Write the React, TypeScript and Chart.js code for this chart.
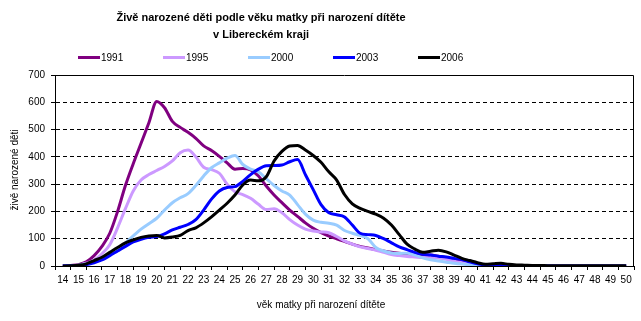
import React, { useEffect, useRef } from "react";
import { Chart, registerables } from "chart.js";

Chart.register(...registerables);

const TITLE_LINES = ["Živě narozené děti podle věku matky při narození dítěte", "v Libereckém kraji"];
const Y_TITLE = "živě narozené děti";
const X_TITLE = "věk matky při narození dítěte";

const AGE_LABELS = [14, 15, 16, 17, 18, 19, 20, 21, 22, 23, 24, 25, 26, 27, 28, 29, 30, 31, 32, 33, 34, 35, 36, 37, 38, 39, 40, 41, 42, 43, 44, 45, 46, 47, 48, 49, 50];

const AGES = [
  14, 14.5, 15, 15.5, 16, 16.5, 17, 17.5, 18, 18.5,
  19, 19.5, 20, 20.5, 21, 21.5, 22, 22.5, 23, 23.5,
  24, 24.5, 25, 25.5, 26, 26.5, 27, 27.5, 28, 28.5,
  29, 29.5, 30, 30.5, 31, 31.5, 32, 32.5, 33, 33.5,
  34, 34.5, 35, 35.5, 36, 36.5, 37, 37.5, 38, 38.5,
  39, 39.5, 40, 40.5, 41, 41.5, 42, 42.5, 43, 43.5,
  44, 44.5, 45, 45.5, 46, 46.5, 47, 47.5, 48, 48.5,
  49, 49.5, 50,
];

const SERIES_NAMES = ["1991", "1995", "2000", "2003", "2006"];
const SERIES_COLORS = ["#800080", "#CC99FF", "#99CCFF", "#0000FF", "#000000"];

const Y1991 = [
  0, 2, 5, 15, 38, 72, 120, 200, 295, 375,
  450, 525, 603, 580, 530, 508, 490, 468, 440, 423,
  402, 378, 355, 357, 352, 330, 293, 260, 232, 205,
  182, 158, 138, 122, 110, 100, 90, 80, 72, 66,
  60, 55, 50, 47, 45, 43, 40, 40, 36, 30,
  22, 15, 10, 6, 4, 3, 2, 1, 1, 1,
  0, 0, 0, 0, 0, 0, 0, 0, 0, 0,
  0, 0, 0,
];
const Y1995 = [
  0, 1, 3, 10, 22, 45, 78, 140, 210, 275,
  315, 335, 350, 365, 385, 415, 425, 400, 362, 353,
  340, 300, 272, 262, 248, 226, 207, 210, 195, 170,
  150, 135, 128, 125, 122, 108, 92, 80, 70, 64,
  58, 50, 42, 38, 35, 33, 31, 30, 29, 25,
  18, 12, 8, 5, 3, 2, 1, 1, 0, 0,
  0, 0, 0, 0, 0, 0, 0, 0, 0, 0,
  0, 0, 0,
];
const Y2000 = [
  0, 1, 3, 8, 15, 25, 40, 60, 85, 110,
  135, 155, 175, 205, 232, 250, 265, 295, 330, 360,
  378, 395, 405, 372, 355, 345, 320, 295, 275, 260,
  225, 190, 168, 160, 157, 150, 130, 120, 112, 100,
  68, 55, 48, 46, 47, 40, 30, 23, 18, 14,
  10, 7, 5, 3, 2, 1, 1, 0, 0, 0,
  0, 0, 0, 0, 0, 0, 0, 0, 0, 0,
  0, 0, 0,
];
const Y2003 = [
  0, 1, 2, 5, 12, 22, 38, 55, 72, 88,
  98, 105, 108, 118, 132, 142, 152, 170, 205, 245,
  275, 288, 291, 310, 335, 355, 367, 368, 370, 382,
  390, 335, 280, 225, 195, 188, 180, 150, 120, 115,
  112, 100, 85, 70, 60, 50, 43, 40, 36, 33,
  28, 24, 15, 8, 4, 3, 3, 2, 1, 0,
  0, 0, 0, 0, 0, 0, 0, 0, 0, 0,
  0, 0, 0,
];
const Y2006 = [
  0, 1, 3, 8, 20, 32, 50, 68, 85, 96,
  105, 110, 112, 103, 106, 112, 130, 140, 158, 180,
  205, 230, 260, 297, 315, 312, 327, 385, 420, 440,
  442, 425, 405, 380, 345, 315, 262, 228, 211, 200,
  190, 175, 150, 115, 80, 62, 50, 54, 58, 52,
  40, 28, 20, 12, 6, 8, 10, 6, 4, 3,
  2, 2, 1, 1, 1, 1, 1, 1, 1, 1,
  1, 1, 1,
];

const SERIES = [Y1991, Y1995, Y2000, Y2003, Y2006];

const FONT = "Arial, 'Liberation Sans', sans-serif";

const decorPlugin = {
  id: "decor",
  afterDraw(chart: any) {
    const ctx = chart.ctx;
    const area = chart.chartArea;
    ctx.save();
    // plot frame (top and right)
    ctx.strokeStyle = "#000";
    ctx.lineWidth = 1;
    ctx.beginPath();
    ctx.moveTo(Math.round(area.left) + 0.5, Math.round(area.top) + 0.5);
    ctx.lineTo(Math.round(area.right) - 0.5, Math.round(area.top) + 0.5);
    ctx.lineTo(Math.round(area.right) - 0.5, Math.round(area.bottom) + 0.5);
    ctx.stroke();

    // title
    ctx.fillStyle = "#000";
    ctx.textAlign = "center";
    ctx.textBaseline = "alphabetic";
    ctx.font = `bold 11px ${FONT}`;
    ctx.fillText(TITLE_LINES[0], 261, 21);
    ctx.fillText(TITLE_LINES[1], 261, 38);

    // legend
    ctx.font = `10px ${FONT}`;
    ctx.textAlign = "left";
    ctx.textBaseline = "middle";
    SERIES_NAMES.forEach((name, i) => {
      const x0 = 78 + 85 * i;
      ctx.strokeStyle = SERIES_COLORS[i];
      ctx.lineWidth = 3;
      ctx.beginPath();
      ctx.moveTo(x0, 57.5);
      ctx.lineTo(x0 + 22, 57.5);
      ctx.stroke();
      ctx.fillStyle = "#000";
      ctx.fillText(name, x0 + 23, 58);
    });

    // x axis title
    ctx.textAlign = "center";
    ctx.fillText(X_TITLE, 321, 305);

    // y axis title
    ctx.translate(15, 170);
    ctx.rotate(-Math.PI / 2);
    ctx.fillText(Y_TITLE, 0, 0);
    ctx.restore();
  },
};

export default function App() {
  const ref = useRef<HTMLCanvasElement | null>(null);

  useEffect(() => {
    if (!ref.current) return;
    const chart = new Chart(ref.current, {
      type: "line",
      data: {
        datasets: SERIES.map((vals, i) => ({
          label: SERIES_NAMES[i],
          data: AGES.map((a, j) => ({ x: a, y: vals[j] })),
          borderColor: SERIES_COLORS[i],
          backgroundColor: SERIES_COLORS[i],
          borderWidth: 3,
          pointRadius: 0,
          fill: false,
          cubicInterpolationMode: "monotone" as const,
          order: SERIES.length - i,
        })),
      },
      options: {
        responsive: false,
        animation: false,
        events: [],
        layout: { padding: { top: 75, right: 7, left: 0, bottom: 0 } },
        plugins: {
          legend: { display: false },
          title: { display: false },
          tooltip: { enabled: false },
        },
        scales: {
          x: {
            type: "linear",
            min: 13.5,
            max: 50.5,
            afterBuildTicks: (axis: any) => {
              axis.ticks = AGE_LABELS.map((v) => ({ value: v }));
            },
            afterFit: (scale: any) => {
              scale.height = 55;
            },
            ticks: {
              autoSkip: false,
              maxRotation: 0,
              minRotation: 0,
              padding: 4,
              color: "#000",
              font: { family: FONT, size: 10 },
              callback: (v: any) => String(v),
            },
            grid: {
              offset: true,
              drawOnChartArea: false,
              drawTicks: true,
              tickLength: 4,
              tickColor: "#000",
              color: "#000",
            },
            border: { display: true, color: "#000", width: 1 },
          },
          y: {
            type: "linear",
            min: 0,
            max: 700,
            afterFit: (scale: any) => {
              scale.width = 55;
            },
            ticks: {
              stepSize: 100,
              padding: 6,
              color: "#000",
              font: { family: FONT, size: 10 },
            },
            grid: {
              drawTicks: true,
              tickLength: 4,
              tickColor: "#000",
              color: (c: any) =>
                c.tick && (c.tick.value === 0 || c.tick.value === 700) ? "rgba(0,0,0,0)" : "#000",
              lineWidth: 1,
            },
            border: { display: true, color: "#000", width: 1, dash: [4, 3] },
          },
        },
      },
      plugins: [decorPlugin],
    });
    return () => chart.destroy();
  }, []);

  return (
    <div style={{ position: "fixed", left: 0, top: 0, width: 641, height: 321, background: "#fff" }}>
      <canvas ref={ref} width={641} height={321} style={{ display: "block" }} />
    </div>
  );
}
